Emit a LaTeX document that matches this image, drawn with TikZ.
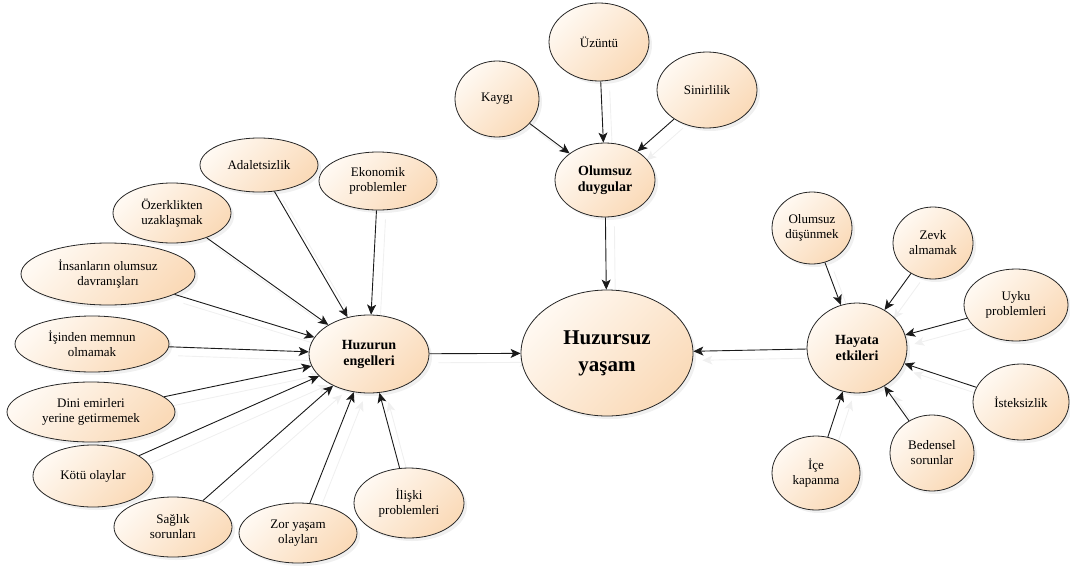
\documentclass[tikz,border=0pt]{standalone}
\usepackage{fontspec}
\setmainfont{Liberation Serif}
\usetikzlibrary{shapes.geometric,arrows.meta,shadows}
\pgfdeclarelayer{background}
\pgfsetlayers{background,main}
\definecolor{bubLight}{HTML}{FFF9F2}
\definecolor{bubDark}{HTML}{FADAB8}
\definecolor{lineGray}{HTML}{1A1A1A}
\tikzset{
  bub/.style={ellipse, draw=black!85, line width=0.8pt,
    top color=bubLight, bottom color=bubDark, shading angle=45,
    inner sep=0pt, align=center,
    font=\fontsize{13}{15}\selectfont,
    drop shadow={opacity=0.12, shadow xshift=3pt, shadow yshift=-3pt}},
  sz/.style 2 args={minimum width=#1pt, minimum height=#2pt},
  hub/.style={font=\fontsize{14}{16}\selectfont\bfseries},
  core/.style={font=\fontsize{21}{27}\selectfont\bfseries},
  arr/.style={draw=lineGray, line width=0.9pt,
    -{Stealth[length=10pt, width=9pt, inset=2.5pt]}},
  arrshade/.style={draw=black!6, line width=0.9pt,
    -{Stealth[length=10pt, width=9pt, inset=2.5pt]}},
}
\begin{document}
\begin{tikzpicture}[x=1pt, y=-1pt]
\useasboundingbox (0,0) rectangle (1070,570);

% central node and the three hubs
\node[bub, core, sz={172}{126}] (core) at (607,353) {Huzursuz\\yaşam};
\node[bub, hub, sz={120}{78}] (eng) at (369,354) {Huzurun\\engelleri};
\node[bub, hub, sz={100}{74}] (duy) at (605,180) {Olumsuz\\duygular};
\node[bub, hub, sz={100}{90}] (etk) at (857,348) {Hayata\\etkileri};

% feelings
\node[bub, sz={84}{76}]  (kaygi) at (497,99)  {Kaygı};
\node[bub, sz={100}{78}] (uzun)  at (599,42)  {Üzüntü};
\node[bub, sz={100}{76}] (sinir) at (707,90)  {Sinirlilik};

% obstacles
\node[bub, sz={118}{54}]  (adal)  at (259,165) {Adaletsizlik};
\node[bub, sz={118}{58}]  (ekon)  at (378,181) {Ekonomik\\problemler};
\node[bub, sz={118}{60}]  (ozer)  at (172,213) {Özerklikten\\uzaklaşmak};
\node[bub, sz={174}{62}]  (insan) at (108,274) {İnsanların olumsuz\\davranışları};
\node[bub, sz={154}{56}]  (isin)  at (92,344)  {İşinden memnun\\olmamak};
\node[bub, sz={168}{60}]  (dini)  at (91,412)  {Dini emirleri\\yerine getirmemek};
\node[bub, sz={120}{62}]  (kotu)  at (93,476)  {Kötü olaylar};
\node[bub, sz={118}{60}]  (sag)   at (173,527) {Sağlık\\sorunları};
\node[bub, sz={118}{60}]  (zor)   at (298,533) {Zor yaşam\\olayları};
\node[bub, sz={110}{70}]  (ilis)  at (409,503) {İlişki\\problemleri};

% effects on life
\node[bub, sz={80}{72}]  (dus)   at (812,228) {Olumsuz\\düşünmek};
\node[bub, sz={80}{72}]  (zevk)  at (933,243) {Zevk\\almamak};
\node[bub, sz={104}{72}] (uyku)  at (1016,305) {Uyku\\problemleri};
\node[bub, sz={96}{76}]  (istek) at (1021,402) {İsteksizlik};
\node[bub, sz={84}{76}]  (beden) at (932,453) {Bedensel\\sorunlar};
\node[bub, sz={88}{74}]  (ice)   at (816,473) {İçe\\kapanma};

% connectors, with a faint offset copy underneath
\foreach \s/\t in {kaygi/duy, uzun/duy, sinir/duy, duy/core, eng/core, etk/core,
  adal/eng, ekon/eng, ozer/eng, insan/eng, isin/eng, dini/eng, kotu/eng,
  sag/eng, zor/eng, ilis/eng,
  dus/etk, zevk/etk, uyku/etk, istek/etk, beden/etk, ice/etk}{
  \begin{pgfonlayer}{background}
    \draw[arrshade, transform canvas={shift={(9pt,-9pt)}}] (\s) -- (\t);
  \end{pgfonlayer}
  \draw[arr] (\s) -- (\t);
}
\end{tikzpicture}
\end{document}
